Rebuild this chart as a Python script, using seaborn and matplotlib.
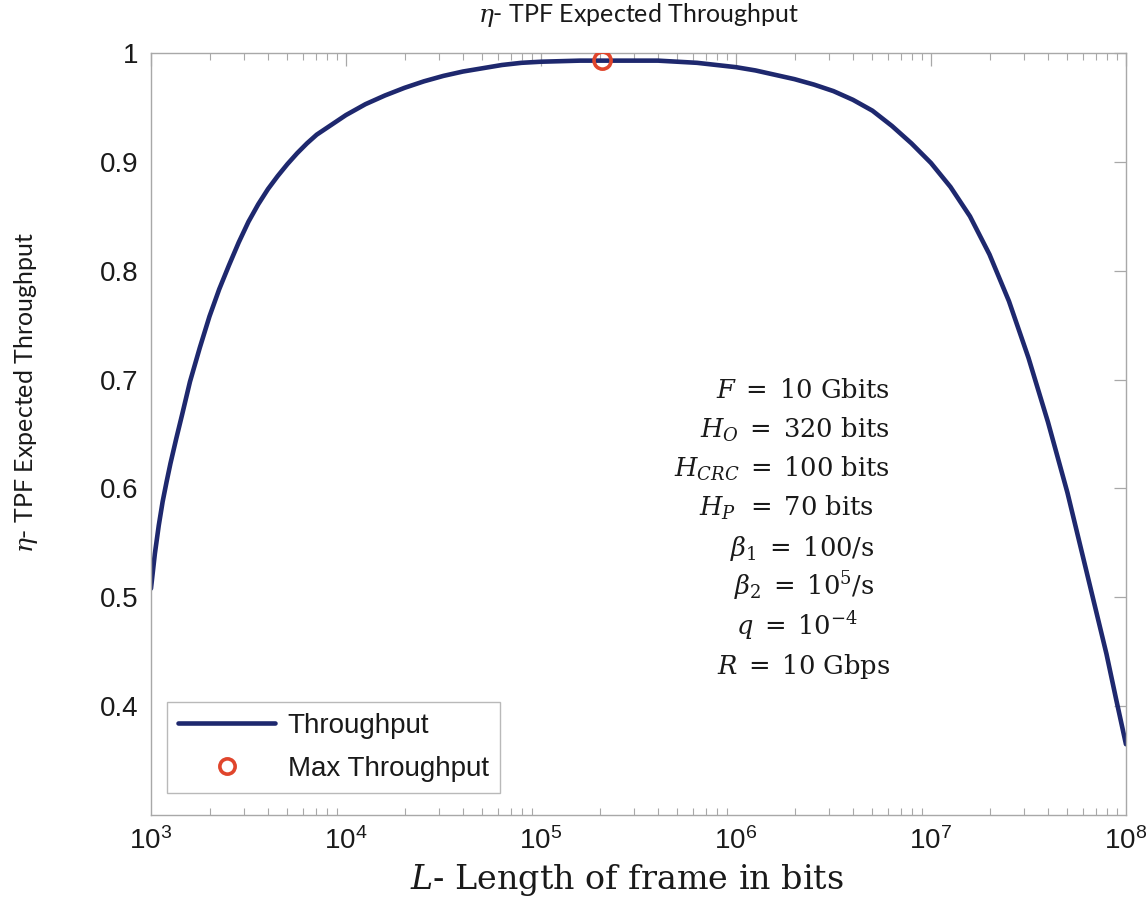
import matplotlib
matplotlib.use("Agg")
import matplotlib.pyplot as plt
from matplotlib.lines import Line2D
import numpy as np
import seaborn as sns
import pandas as pd

# Frame length as log10(L), L in bits, and expected throughput eta of the TPF scheme
frame_len_log10 = [3.00, 3.02, 3.04, 3.06, 3.08, 3.10, 3.13, 3.16, 3.20, 3.25,
                   3.30, 3.35, 3.40, 3.45, 3.50, 3.55, 3.60, 3.65, 3.70, 3.75,
                   3.80, 3.85, 3.90, 3.95, 4.00, 4.10, 4.20, 4.30, 4.40, 4.50,
                   4.60, 4.70, 4.80, 4.90, 5.00, 5.20, 5.40, 5.60, 5.70, 5.80,
                   5.90, 6.00, 6.10, 6.20, 6.30, 6.40, 6.50, 6.60, 6.70, 6.80,
                   6.90, 7.00, 7.10, 7.20, 7.30, 7.40, 7.50, 7.60, 7.70, 7.80,
                   7.90, 7.95, 8.00]
throughput = [0.508, 0.540, 0.566, 0.588, 0.606, 0.623, 0.646, 0.668, 0.698, 0.729,
              0.758, 0.783, 0.805, 0.826, 0.845, 0.861, 0.875, 0.887, 0.898, 0.908,
              0.917, 0.925, 0.931, 0.937, 0.943, 0.953, 0.961, 0.968, 0.974, 0.979,
              0.983, 0.986, 0.989, 0.991, 0.992, 0.993, 0.993, 0.993, 0.992, 0.991,
              0.989, 0.987, 0.984, 0.980, 0.976, 0.971, 0.965, 0.957, 0.947, 0.933,
              0.917, 0.899, 0.877, 0.850, 0.815, 0.772, 0.720, 0.661, 0.596, 0.522,
              0.448, 0.406, 0.365]

# Optimum frame length
max_len_bits = [2.07e5]
max_throughput = [0.993]

x_tick_values = [1e3, 1e4, 1e5, 1e6, 1e7, 1e8]
x_tick_labels = [r"$10^{3}$", r"$10^{4}$", r"$10^{5}$", r"$10^{6}$", r"$10^{7}$", r"$10^{8}$"]
y_tick_values = [0.4, 0.5, 0.6, 0.7, 0.8, 0.9, 1.0]
y_tick_labels = ["0.4", "0.5", "0.6", "0.7", "0.8", "0.9", "1"]

param_lines = [r"$F\;=\;10\ \mathrm{Gbits}$",
               r"$H_O\;=\;320\ \mathrm{bits}$",
               r"$H_{CRC}\;=\;100\ \mathrm{bits}$",
               r"$H_P\;\,=\;70\ \mathrm{bits}$",
               r"$\beta_1\;=\;100/\mathrm{s}$",
               r"$\beta_2\;=\;10^5/\mathrm{s}$",
               r"$q\;=\;10^{-4}$",
               r"$R\;=\;10\ \mathrm{Gbps}$"]

line_color = "#1e286e"
marker_color = "#e0452c"
axis_grey = "#a8a8a8"
text_color = "#1a1a1a"

sns.set_theme(style="white")
plt.rcParams["font.family"] = ["Liberation Sans", "DejaVu Sans"]
plt.rcParams["mathtext.fontset"] = "custom"
plt.rcParams["mathtext.rm"] = "Liberation Sans"
plt.rcParams["mathtext.it"] = "Liberation Sans:italic"
plt.rcParams["mathtext.default"] = "it"

df = pd.DataFrame({"L": 10.0 ** np.array(frame_len_log10), "eta": throughput})
df_max = pd.DataFrame({"L": max_len_bits, "eta": max_throughput})

fig = plt.figure(figsize=(11.48, 9.11), dpi=100)
ax = fig.add_axes([0.1315, 0.1054, 0.8493, 0.8364])

sns.lineplot(data=df, x="L", y="eta", ax=ax, color=line_color, linewidth=3.3,
             legend=False)
sns.scatterplot(data=df_max, x="L", y="eta", ax=ax, marker="o", s=150,
                facecolors="none", edgecolors=marker_color, linewidths=2.6,
                legend=False, zorder=5)

ax.set_xscale("log")
ax.set_xlim(1e3, 1e8)
ax.set_ylim(0.3, 1.0)
ax.set_xticks(x_tick_values, labels=x_tick_labels)
ax.set_yticks(y_tick_values, labels=y_tick_labels)

for side in ["left", "right", "top", "bottom"]:
    ax.spines[side].set_visible(True)
    ax.spines[side].set_color(axis_grey)
    ax.spines[side].set_linewidth(1.0)

ax.tick_params(axis="both", which="major", direction="in", top=True, right=True,
               length=9, width=0.9, color=axis_grey, labelsize=20,
               labelcolor=text_color)
ax.tick_params(axis="x", which="minor", direction="in", top=True, bottom=True,
               length=5, width=0.8, color=axis_grey)
ax.tick_params(axis="x", which="major", pad=9)
ax.tick_params(axis="y", which="major", pad=9)

ax.set_title(r"$\eta$- TPF Expected Throughput", fontsize=18, family="Lato",
             math_fontfamily="dejavuserif", color=text_color, pad=22)
ax.set_xlabel(r"$L$- Length of frame in bits", fontsize=24, family="DejaVu Serif",
              math_fontfamily="dejavuserif", color=text_color, labelpad=6)
ax.xaxis.set_label_coords(0.488, -0.062)
ax.xaxis.label.set_verticalalignment("top")
ax.set_ylabel(r"$\eta$- TPF Expected Throughput", fontsize=18, family="Lato",
              math_fontfamily="dejavuserif", color=text_color)
ax.yaxis.set_label_coords(-0.114, 0.555)

# parameter block (right edges and baselines in pixel rows of the canvas)
right_edges = [890, 890, 890, 874, 875, 875, 858, 890]
baselines = [398, 438, 477, 516, 556, 595, 635, 674]
for txt, xr, yb in zip(param_lines, right_edges, baselines):
    ax.text((xr - 151) / 975, (815 - yb) / 762, txt, transform=ax.transAxes,
            ha="right", va="baseline", fontsize=18.5, family="DejaVu Serif",
            math_fontfamily="dejavuserif", color=text_color)

handles = [Line2D([], [], color=line_color, linewidth=3.3),
           Line2D([], [], linestyle="none", marker="o", markersize=11,
                  markerfacecolor="none", markeredgecolor=marker_color,
                  markeredgewidth=2.6)]
leg = ax.legend(handles, ["Throughput", "Max Throughput"], loc="lower left",
                bbox_to_anchor=(0.0164, 0.029), borderaxespad=0, fontsize=20,
                frameon=True, fancybox=False, handlelength=3.5, handletextpad=0.45,
                borderpad=0.4, labelspacing=0.6)
leg.get_frame().set_edgecolor(axis_grey)
leg.get_frame().set_linewidth(1.0)
for t in leg.get_texts():
    t.set_color(text_color)

fig.savefig("out.png", dpi=100, facecolor="white")
